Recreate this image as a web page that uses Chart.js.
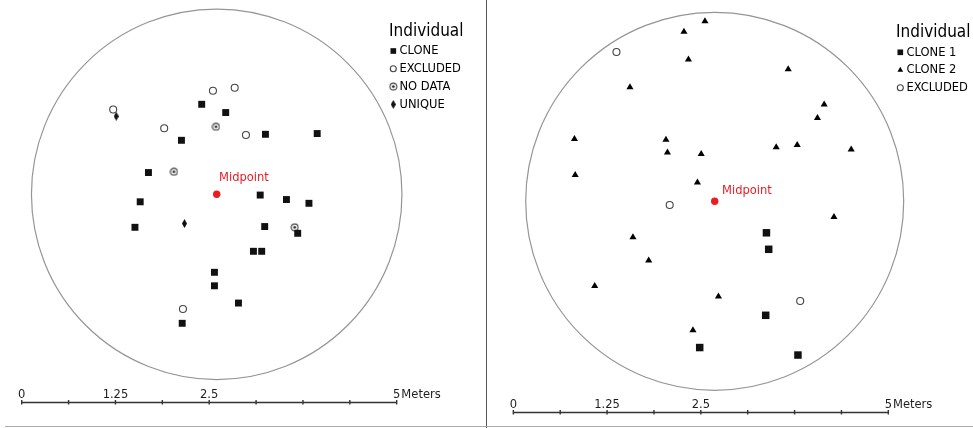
<!DOCTYPE html>
<html>
<head>
<meta charset="utf-8">
<title>Stand maps</title>
<script src="https://cdn.jsdelivr.net/npm/chart.js@4.4.0/dist/chart.umd.min.js"></script>
<style>
  body { margin: 0; background: #fff; }
  #wrap { position: relative; width: 973px; height: 428px; overflow: hidden; }
  .panel { position: absolute; top: 0; }
  #divider { position: absolute; left: 486px; top: 0; width: 1px; height: 428px; background: #555; }
  #baseline { position: absolute; left: 5px; top: 426px; width: 968px; height: 1px; background: #aaa; }
</style>
</head>
<body>
<div id="wrap">
  <canvas id="mapA" class="panel" width="486" height="428" style="left:0"></canvas>
  <canvas id="mapB" class="panel" width="486" height="428" style="left:487px"></canvas>
  <div id="divider"></div>
  <div id="baseline"></div>
</div>
<script>
// --- Stand A: positions in metres from the midpoint (x east, y north) ---
const seriesA = ['CLONE', 'EXCLUDED', 'NO DATA', 'UNIQUE'];
const cloneA = [
  [-0.20, 1.20], [0.12, 1.09], [-0.47, 0.72], [0.65, 0.80], [1.34, 0.81],
  [-0.91, 0.29], [-1.02, -0.10], [0.58, -0.01], [0.93, -0.07], [1.23, -0.12],
  [-1.09, -0.44], [0.64, -0.43], [1.08, -0.52], [0.49, -0.76], [0.60, -0.76],
  [-0.03, -1.04], [-0.03, -1.22], [0.29, -1.45], [-0.46, -1.72]
];
const excludedA = [[-0.05, 1.38], [0.24, 1.42], [-1.38, 1.13], [-0.70, 0.88], [0.39, 0.79], [-0.45, -1.53]];
const noDataA = [[-0.01, 0.90], [-0.57, 0.30], [1.04, -0.44]];
const uniqueA = [[-1.34, 1.04], [-0.43, -0.39]];

// --- Stand B ---
const seriesB = ['CLONE 1', 'CLONE 2', 'EXCLUDED'];
const clone1B = [[0.69, -0.42], [0.72, -0.64], [0.68, -1.52], [-0.20, -1.95], [1.11, -2.05]];
const clone2B = [
  [-0.13, 2.40], [-0.41, 2.26], [-0.35, 1.89], [0.98, 1.76], [-1.13, 1.52],
  [1.46, 1.29], [1.37, 1.11], [-1.87, 0.83], [-0.65, 0.82], [-0.63, 0.65],
  [-0.18, 0.63], [0.82, 0.72], [1.10, 0.75], [1.82, 0.69], [-1.86, 0.35],
  [-0.23, 0.25], [1.59, -0.21], [-1.09, -0.48], [-0.88, -0.79], [-1.60, -1.13],
  [0.05, -1.27], [-0.29, -1.72]
];
const excludedB = [[-1.31, 1.99], [-0.60, -0.05], [1.14, -1.33]];

// scale bar (metres)
const barTicks = [0, 0.625, 1.25, 1.875, 2.5, 3.125, 3.75, 4.375, 5];
const barLabels = ['0', '1.25', '2.5', '5'];
const barLabelValues = [0, 1.25, 2.5, 5];
const barUnit = 'Meters';
const midLabel = 'Midpoint';
const legendTitle = 'Individual';

const PX_PER_M = 75;
const FONT = '"DejaVu Sans Condensed", "DejaVu Sans", sans-serif';

const pts = arr => arr.map(([x, y]) => ({ x, y }));

// narrow filled diamond for UNIQUE
function diamondSprite() {
  const c = document.createElement('canvas');
  c.width = 5; c.height = 9;
  const g = c.getContext('2d');
  g.fillStyle = '#111';
  g.beginPath();
  g.moveTo(2.5, 0); g.lineTo(5, 4.5); g.lineTo(2.5, 9); g.lineTo(0, 4.5);
  g.closePath(); g.fill();
  return c;
}
// ring with a centre dot for NO DATA
function ringDotSprite() {
  const c = document.createElement('canvas');
  c.width = 9; c.height = 9;
  const g = c.getContext('2d');
  g.strokeStyle = '#444'; g.lineWidth = 1.1;
  g.beginPath(); g.arc(4.5, 4.5, 3.4, 0, Math.PI * 2); g.stroke();
  g.fillStyle = '#111';
  g.beginPath(); g.arc(4.5, 4.5, 1.3, 0, Math.PI * 2); g.fill();
  return c;
}
const diamond = diamondSprite();
const ringDot = ringDotSprite();

const styles = {
  square: { pointStyle: 'rect', pointRadius: 4.9, backgroundColor: '#111', borderColor: '#111', borderWidth: 0 },
  bigSquare: { pointStyle: 'rect', pointRadius: 5.3, backgroundColor: '#111', borderColor: '#111', borderWidth: 0 },
  triangle: { pointStyle: 'triangle', pointRadius: 4.1, backgroundColor: '#000', borderColor: '#000', borderWidth: 0 },
  ring: { pointStyle: 'circle', pointRadius: 3.5, backgroundColor: '#fff', borderColor: '#444', borderWidth: 1.1 },
  ringDot: { pointStyle: ringDot, pointRadius: 4, backgroundColor: '#fff', borderColor: '#444', borderWidth: 0 },
  diamond: { pointStyle: diamond, pointRadius: 4, backgroundColor: '#111', borderColor: '#111', borderWidth: 0 }
};

// circle boundary, scale bar, legend and midpoint label
const mapDecor = {
  id: 'mapDecor',
  beforeDatasetsDraw(chart, args, o) {
    const { ctx, scales: { x, y } } = chart;
    const cx = x.getPixelForValue(0), cy = y.getPixelForValue(0);
    const r = x.getPixelForValue(o.radius) - cx;
    ctx.save();
    ctx.strokeStyle = '#959595';
    ctx.lineWidth = 1.2;
    ctx.beginPath(); ctx.arc(cx, cy, r, 0, Math.PI * 2); ctx.stroke();
    ctx.restore();
  },
  afterDraw(chart, args, o) {
    const { ctx, scales: { x, y } } = chart;
    ctx.save();

    // scale bar
    const by = Math.round(y.getPixelForValue(o.barY)) + 0.5;
    const bx = v => x.getPixelForValue(o.barX + v);
    ctx.strokeStyle = '#333';
    ctx.lineWidth = 1.4;
    ctx.beginPath();
    ctx.moveTo(bx(0), by); ctx.lineTo(bx(5), by);
    barTicks.forEach(v => { ctx.moveTo(bx(v), by - 2.5); ctx.lineTo(bx(v), by + 2); });
    ctx.stroke();
    ctx.fillStyle = '#1e1e1e';
    ctx.font = '12.8px ' + FONT;
    ctx.textAlign = 'center';
    ctx.textBaseline = 'alphabetic';
    barLabels.forEach((t, i) => ctx.fillText(t, bx(barLabelValues[i]), by - 4.5));
    ctx.textAlign = 'left';
    const last = bx(5) + ctx.measureText('5').width / 2 + 1;
    ctx.fillText(barUnit, last, by - 4.5);

    // midpoint label
    const mx = x.getPixelForValue(0), my = y.getPixelForValue(0);
    ctx.fillStyle = '#ec1c24';
    ctx.font = '12.8px ' + FONT;
    ctx.textBaseline = 'middle';
    ctx.fillText(midLabel, mx + o.labelDx, my + o.labelDy);

    // legend
    const L = o.legend;
    ctx.fillStyle = '#000';
    ctx.font = '17px ' + FONT;
    ctx.fillText(legendTitle, L.x, L.y);
    ctx.font = '12.8px ' + FONT;
    chart.data.datasets.forEach((ds, i) => {
      if (!ds.inLegend) return;
      const iy = L.y + L.first + (ds.inLegend - 1) * L.step;
      ctx.fillStyle = ds.backgroundColor;
      ctx.strokeStyle = ds.borderColor;
      ctx.lineWidth = ds.borderWidth;
      Chart.helpers.drawPoint(ctx, {
        pointStyle: ds.pointStyle, rotation: 0,
        radius: ds.legendRadius || ds.pointRadius * 0.8, borderWidth: ds.borderWidth
      }, L.x + 4.3, iy);
      ctx.fillStyle = '#000';
      ctx.fillText(ds.label, L.x + 10.5, iy);
    });
    ctx.restore();
  }
};

function makeMap(id, view, sets, decor) {
  const midpoint = {
    label: midLabel, data: [{ x: 0, y: 0 }], pointStyle: 'circle', pointRadius: 3.7,
    backgroundColor: '#ec1c24', borderColor: '#ec1c24', borderWidth: 0
  };
  return new Chart(document.getElementById(id), {
    type: 'scatter',
    data: { datasets: [...sets, midpoint] },
    options: {
      responsive: false,
      devicePixelRatio: 1,
      animation: false,
      events: [],
      layout: { padding: 0, autoPadding: false },
      clip: false,
      scales: {
        x: { type: 'linear', display: false, min: view.x0, max: view.x0 + 486 / PX_PER_M },
        y: { type: 'linear', display: false, max: view.y1, min: view.y1 - 428 / PX_PER_M }
      },
      plugins: { legend: { display: false }, tooltip: { enabled: false }, mapDecor: decor }
    },
    plugins: [mapDecor]
  });
}

makeMap('mapA', { x0: -216.7 / PX_PER_M, y1: 194.3 / PX_PER_M }, [
  { label: seriesA[0], data: pts(cloneA), ...styles.square, inLegend: 1, legendRadius: 4 },
  { label: seriesA[1], data: pts(excludedA), ...styles.ring, inLegend: 2, legendRadius: 3 },
  { label: seriesA[2], data: pts(noDataA), ...styles.ringDot, inLegend: 3 },
  { label: seriesA[3], data: pts(uniqueA), ...styles.diamond, inLegend: 4 }
], {
  radius: 2.47, barX: -2.60, barY: -2.77, labelDx: 2.3, labelDy: -16.6,
  legend: { x: 389, y: 31.7, first: 19.3, step: 17.8 }
});

makeMap('mapB', { x0: -227.7 / PX_PER_M, y1: 201.3 / PX_PER_M }, [
  { label: seriesB[0], data: pts(clone1B), ...styles.bigSquare, inLegend: 1, legendRadius: 4 },
  { label: seriesB[1], data: pts(clone2B), ...styles.triangle, inLegend: 2, legendRadius: 3.3 },
  { label: seriesB[2], data: pts(excludedB), ...styles.ring, inLegend: 3, legendRadius: 3 }
], {
  radius: 2.52, barX: -2.685, barY: -2.805, labelDx: 7.3, labelDy: -10.6,
  legend: { x: 409, y: 32.3, first: 20, step: 17.7 }
});
</script>
</body>
</html>
